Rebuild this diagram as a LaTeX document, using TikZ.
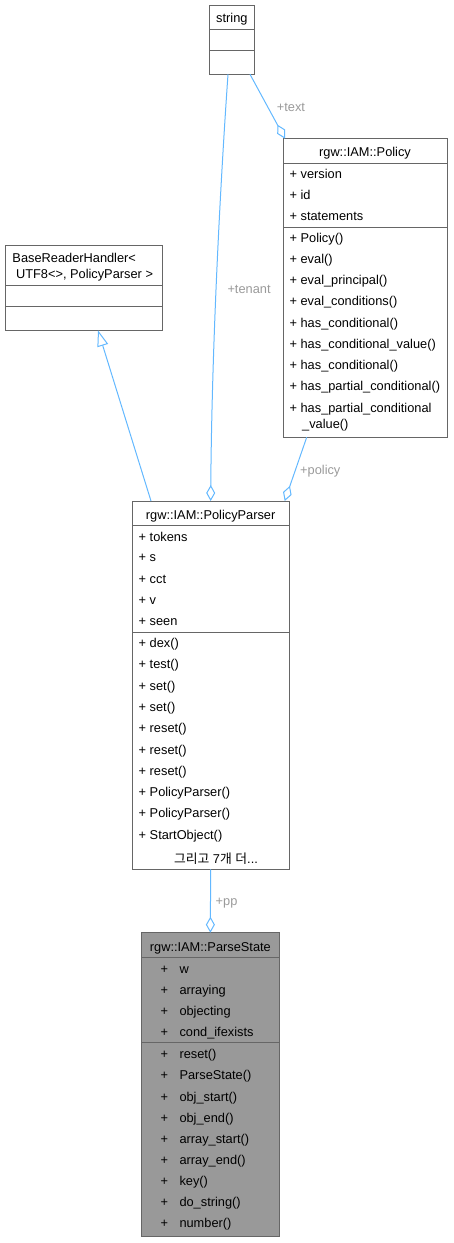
\documentclass[tikz,border=0pt]{standalone}
\usepackage{fontspec}
\setmainfont{Liberation Sans}
\newfontfamily\krfont{Noto Sans CJK KR}
\usetikzlibrary{arrows.meta}
\definecolor{edgeblue}{HTML}{63B8FF}
\definecolor{boxline}{HTML}{666666}
\definecolor{lblgray}{HTML}{9A9A9A}
\definecolor{psfill}{HTML}{999999}
\begin{document}
\begin{tikzpicture}[x=1pt,y=-1pt,
  font=\fontsize{12.8}{15}\selectfont,
  classbox/.style={draw=boxline, line width=1pt, fill=white, inner sep=0pt, outer sep=0pt},
  divider/.style={draw=boxline, line width=1pt},
  row/.style={anchor=base west, inner sep=0pt},
  title/.style={anchor=base, inner sep=0pt},
  lbl/.style={anchor=base west, inner sep=0pt, text=lblgray},
  assoc/.style={draw=edgeblue, line width=1pt, -{Diamond[open,length=16pt,width=9pt]}},
  inherit/.style={draw=edgeblue, line width=1pt, -{Triangle[open,length=16pt,width=11pt]}}]
\useasboundingbox (0,0) rectangle (453,1243);

% string
\node[classbox, minimum width=45.7pt, minimum height=69.3pt] (str) at (231.85,39.65) {};
\draw[divider] (209,29.3) -- (254.7,29.3);
\draw[divider] (209,50.7) -- (254.7,50.7);
\node[title] (str-t) at (231.85,22.6) {string};

% rgw::IAM::Policy
\node[classbox, minimum width=164pt, minimum height=298.6pt] (pol) at (365,288) {};
\draw[divider] (283,163) -- (447,163);
\draw[divider] (283,227) -- (447,227);
\node[title] (pol-t) at (365,156.6) {rgw::IAM::Policy};
\foreach \yy/\tt [count=\i] in {174/version, 195/id, 216/statements,
  238/Policy(), 259/eval(), 280.5/eval\_principal(), 301.5/eval\_conditions(),
  323/has\_conditional(), 344/has\_conditional\_value(), 365.5/has\_conditional(),
  386.5/has\_partial\_conditional(), 408/has\_partial\_conditional}
  \node[row] (pol-r\i) at (289.4,\yy+4.3) {+ \tt};
\node[row] (pol-rw) at (302,428.3) {\_value()};

% BaseReaderHandler
\node[classbox, minimum width=157.7pt, minimum height=85.3pt] (brh) at (83.85,287.65) {};
\draw[divider] (5,285.3) -- (162.7,285.3);
\draw[divider] (5,306.7) -- (162.7,306.7);
\node[row] (brh-t1) at (12.3,262.6) {BaseReaderHandler<};
\node[row] (brh-t2) at (12.3,278.6) {\ UTF8<>, PolicyParser >};

% rgw::IAM::PolicyParser
\node[classbox, minimum width=156.7pt, minimum height=368.3pt] (pp) at (210.65,685.15) {};
\draw[divider] (132.3,525) -- (289,525);
\draw[divider] (132.3,632.3) -- (289,632.3);
\node[title] (pp-t) at (210.65,519.3) {rgw::IAM::PolicyParser};
\foreach \yy/\tt [count=\i] in {536.7/tokens, 557.5/s, 578.7/cct, 600/v, 621.3/seen,
  643.3/dex(), 664.3/test(), 685.7/set(), 707/set(), 728.3/reset(), 749.7/reset(),
  771/reset(), 792.3/PolicyParser(), 813.5/PolicyParser(), 834.7/StartObject()}
  \node[row] (pp-r\i) at (138.5,\yy+4.3) {+ \tt};
\node[title] (pp-more) at (216,863.3) {{\krfont 그리고} 7{\krfont 개} {\krfont 더}...};

% rgw::IAM::ParseState
\node[classbox, fill=psfill, minimum width=137.3pt, minimum height=304pt] (ps) at (210.35,1084.7) {};
\draw[divider] (141.7,957.3) -- (279,957.3);
\draw[divider] (141.7,1042.7) -- (279,1042.7);
\node[title] (ps-t) at (210.35,951) {rgw::IAM::ParseState};
\foreach \yy/\tt [count=\i] in {969.3/w, 990/arraying, 1010.7/objecting, 1032/cond\_ifexists,
  1054/reset(), 1075.3/ParseState(), 1096.7/obj\_start(), 1117.7/obj\_end(),
  1138.7/array\_start(), 1159.7/array\_end(), 1181/key(), 1202/do\_string(), 1223/number()}
  {\node[row] (ps-p\i) at (160.5,\yy+4.3) {+};
   \node[row] (ps-r\i) at (179.3,\yy+4.3) {\tt};}

% connectors
\draw[assoc] ([xshift=-3.85pt]str.south) .. controls (222,160) and (212,330) .. (pp.north);
\node[lbl] (l-tenant) at (227.3,293.3) {+tenant};
\draw[assoc] ([xshift=-4.7pt]str.south east) -- ([xshift=2pt]pol.north west);
\node[lbl] (l-text) at (276.7,111.3) {+text};
\draw[assoc] ([xshift=-58.3pt]pol.south) -- ([xshift=-4.3pt]pp.north east);
\node[lbl] (l-policy) at (300,474.3) {+policy};
\draw[inherit] ([xshift=-59.65pt]pp.north) -- ([xshift=14.15pt]brh.south);
\draw[assoc] (pp.south) -- (ps.north);
\node[lbl] (l-pp) at (215.5,905.3) {+pp};
\end{tikzpicture}
\end{document}
